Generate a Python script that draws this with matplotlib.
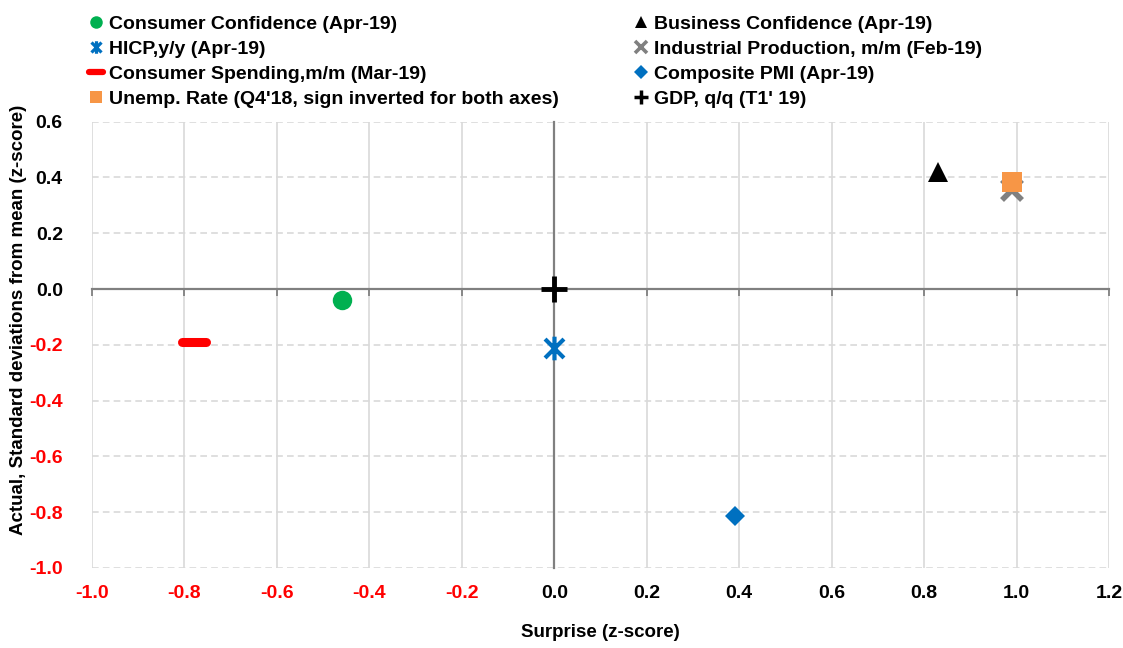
import matplotlib
matplotlib.use('Agg')
import matplotlib.pyplot as plt
from matplotlib.markers import MarkerStyle
from matplotlib.path import Path
from matplotlib.lines import Line2D

plt.rcParams['font.family'] = ['Liberation Sans Narrow', 'Liberation Sans', 'DejaVu Sans']
plt.rcParams['font.weight'] = 'bold'

# data
labels = ['Consumer Confidence (Apr-19)', 'HICP,y/y (Apr-19)',
          'Consumer Spending,m/m (Mar-19)', "Unemp. Rate (Q4'18, sign inverted for both axes)",
          'Business Confidence (Apr-19)', 'Industrial Production, m/m (Feb-19)',
          'Composite PMI (Apr-19)', "GDP, q/q (T1' 19)"]
surprise = [-0.46, 0.0, -0.78, 0.99, 0.83, 0.99, 0.39, 0.0]
actual = [-0.04, -0.21, -0.19, 0.385, 0.42, 0.355, -0.815, 0.0]

xticks = [-1.0, -0.8, -0.6, -0.4, -0.2, 0.0, 0.2, 0.4, 0.6, 0.8, 1.0, 1.2]
yticks = [-1.0, -0.8, -0.6, -0.4, -0.2, 0.0, 0.2, 0.4, 0.6]

# star marker like excel's: an x with a vertical bar
star = Path([(-1, -1), (1, 1), (-1, 1), (1, -1), (0, -1.25), (0, 1.25)],
            [Path.MOVETO, Path.LINETO, Path.MOVETO, Path.LINETO, Path.MOVETO, Path.LINETO])
dash = MarkerStyle('_', capstyle='round')

markers = ['o', star, dash, 's', '^', 'x', 'D', '+']
colors = ['#00B050', '#0070C0', '#FF0000', '#F79646', 'black', '#808080', '#0070C0', 'black']
# (size, edge width) on the chart and in the legend
plot_sizes = [(14, 0), (17, 3), (17, 6.5), (14, 0), (14, 0), (15, 4), (10.5, 0), (19, 3.5)]
leg_sizes = [(9, 0), (9, 2.3), (10, 4.5), (9, 0), (9, 0), (8, 2.6), (7, 0), (10, 2.5)]
zorders = [5, 5, 5, 6, 5, 4, 5, 5]

fig = plt.figure(figsize=(11.23, 6.48), dpi=100)
ax = fig.add_axes([92 / 1123, 1 - 568 / 648, (1109 - 92) / 1123, (568 - 121.7) / 648])

handles = []
for i in range(len(labels)):
    ms, mew = plot_sizes[i]
    mfc = 'none' if markers[i] is star else colors[i]
    ax.plot(surprise[i], actual[i], linestyle='none', marker=markers[i], color=colors[i],
            mfc=mfc, ms=ms, mew=mew, zorder=zorders[i])
    ms, mew = leg_sizes[i]
    handles.append(Line2D([], [], linestyle='none', marker=markers[i], color=colors[i],
                          mfc=mfc, ms=ms, mew=mew, label=labels[i]))

ax.set_xlim(-1.0, 1.2)
ax.set_ylim(-1.0, 0.6)

# grid
for v in xticks:
    ax.axvline(v, color='#D9D9D9', lw=1.2, zorder=1)
for v in yticks:
    ax.axhline(v, color='#D9D9D9', lw=1.2, ls=(0, (4, 2.5)), zorder=1)

# axis lines through zero, labels stay on the outer edge
for s in ['top', 'right']:
    ax.spines[s].set_visible(False)
for s in ['bottom', 'left']:
    ax.spines[s].set_position(('data', 0))
    ax.spines[s].set_color('#808080')
    ax.spines[s].set_linewidth(1.6)
    ax.spines[s].set_zorder(2)
ax.set_xticks(xticks)
ax.set_yticks(yticks)
ax.tick_params(axis='x', direction='out', length=5, width=1.3, color='#808080', labelbottom=False)
ax.tick_params(axis='y', length=0, labelleft=False)

secx = ax.secondary_xaxis('bottom')
secx.set_xticks(xticks, ['%.1f' % v for v in xticks])
secx.tick_params(length=0, pad=12, labelsize=14)
secx.spines['bottom'].set_visible(False)
for t, v in zip(secx.get_xticklabels(), xticks):
    t.set_color('red' if v < 0 else 'black')
    t.set_fontweight('bold')

secy = ax.secondary_yaxis('left')
secy.set_yticks(yticks, ['%.1f' % v for v in yticks])
secy.tick_params(length=0, pad=21, labelsize=14)
secy.spines['left'].set_visible(False)
for t, v in zip(secy.get_yticklabels(), yticks):
    t.set_color('red' if v < 0 else 'black')
    t.set_fontweight('bold')

ax.set_xlabel('Surprise (z-score)', fontsize=13.5, fontweight='bold')
ax.xaxis.set_label_coords(0.5, -0.126)
ax.set_ylabel('Actual, Standard deviations from mean (z-score)', fontsize=13.5, fontweight='bold')
ax.yaxis.set_label_coords(-0.064, 0.556)

leg_kw = dict(frameon=False, fontsize=14, handlelength=0.8, handletextpad=0.3,
              labelspacing=0.38, borderaxespad=0, borderpad=0)
fig.legend(handles=handles[:4], loc='upper left', bbox_to_anchor=(88 / 1123, 1 - 15 / 648), **leg_kw)
fig.legend(handles=handles[4:], loc='upper left', bbox_to_anchor=(633 / 1123, 1 - 15 / 648), **leg_kw)

fig.savefig('out.png', dpi=100)
